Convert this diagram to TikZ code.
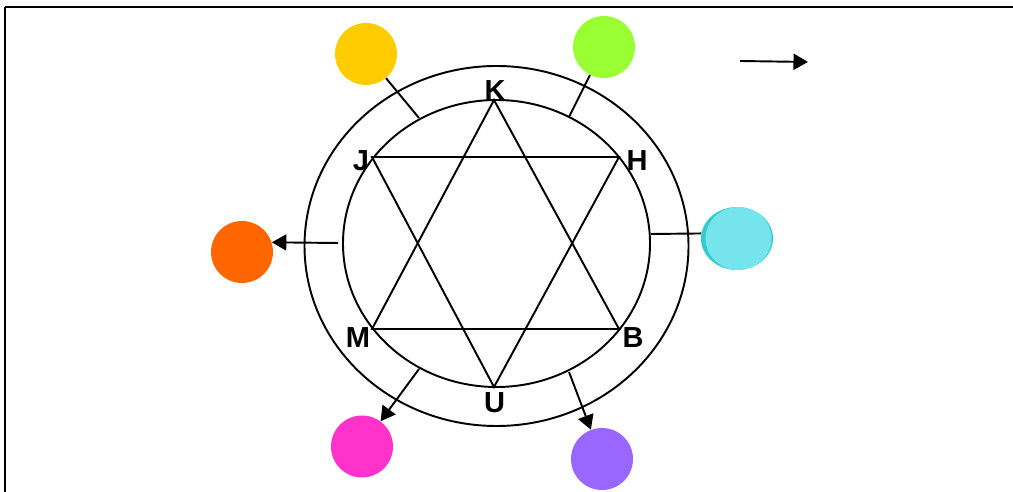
\documentclass[tikz,border=0pt]{standalone}
\usepackage{fontspec}
\setmainfont{Liberation Sans}
\usetikzlibrary{shapes.geometric, arrows.meta}

\definecolor{dotyellow}{HTML}{FFCC00}
\definecolor{dotgreen}{HTML}{99FF33}
\definecolor{dotorange}{HTML}{FF6600}
\definecolor{dotpink}{HTML}{FF33CC}
\definecolor{dotviolet}{HTML}{9966FF}
\definecolor{dotcyan}{HTML}{75E4EC}
\definecolor{dotcyandark}{HTML}{33CCCC}

\begin{document}
\begin{tikzpicture}[
    x=0.02cm, y=-0.02cm,
    dot/.style={circle, minimum size=1.24cm, inner sep=0pt},
    letter/.style={inner sep=0pt, font=\fontsize{16.5}{19}\selectfont\bfseries},
    ring/.style={line width=1.1pt},
    line/.style={line width=1.1pt},
    arrow/.style={line width=1.1pt, -{Triangle[length=2.9mm, width=3.2mm]}}
]
\useasboundingbox (0,0) rectangle (1013,492);

% frame
\draw[line width=1.3pt] (5,7) -- (1013,7);
\draw[line width=0.8pt] (5,492) -- (5,7);

% rings
\draw[ring] (496.5,246) ellipse (192 and 180);
\draw[ring] (496.5,243.5) ellipse (153.5 and 143.5);

% star points
\coordinate (k) at (494,100);
\coordinate (u) at (494,387);
\coordinate (j) at (372,157);
\coordinate (h) at (619,157);
\coordinate (m) at (372,329);
\coordinate (b) at (619,329);

\draw[line] (k) -- (m) -- (b) -- cycle;
\draw[line] (j) -- (h) -- (u) -- cycle;

\node[letter] (lk) at (495,90.5) {K};
\node[letter] (lj) at (361,161) {J};
\node[letter] (lh) at (637,161) {H};
\node[letter] (lm) at (358,338) {M};
\node[letter] (lb) at (633,338) {B};
\node[letter] (lu) at (494.5,402.5) {U};

% coloured dots
\node[dot, fill=dotyellow] (yellow) at (366,54) {};
\node[dot, fill=dotgreen]  (green)  at (604,47) {};
\node[dot, fill=dotorange] (orange) at (242,252) {};
\node[dot, fill=dotpink]   (pink)   at (362,446.5) {};
\node[dot, fill=dotviolet] (violet) at (602,459) {};
\node[ellipse, minimum width=1.44cm, minimum height=1.26cm, inner sep=0pt, fill=dotcyandark,
      path picture={\fill[dotcyan] ([xshift=0.03cm]path picture bounding box.center) ellipse (0.66cm and 0.63cm);}]
      (cyan) at (737,238.5) {};

% points on the inner ring
\coordinate (ryellow) at (419,118);
\coordinate (rgreen)  at (569,117);
\coordinate (rcyan)   at (651,234);
\coordinate (rorange) at (338,243);
\coordinate (rpink)   at (419,369);
\coordinate (rviolet) at (569,372);

\coordinate (tailfree) at (740,61);
\coordinate (headfree) at (808,62);

% Edges
\draw[line] (ryellow) -- (yellow);
\draw[line] (rgreen) -- (green);
\draw[line] (rcyan) -- (cyan.172);
\draw[arrow] (rorange) -- (orange.18);
\draw[arrow] (rpink) -- (pink);
\draw[arrow] (rviolet) -- (violet);
\draw[arrow] (tailfree) -- (headfree);

\end{tikzpicture}
\end{document}
